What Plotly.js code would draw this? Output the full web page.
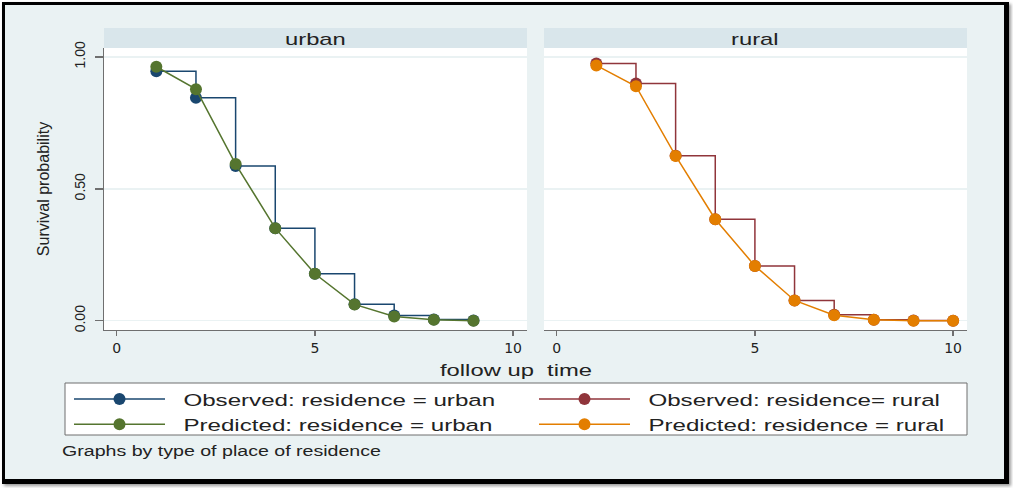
<!DOCTYPE html>
<html>
<head>
<meta charset="utf-8">
<script src="https://cdn.plot.ly/plotly-3.0.1.min.js"></script>
<style>
  html, body { margin: 0; padding: 0; background: #ffffff; }
  #frame { position: absolute; left: 2px; top: 2px; width: 999px; height: 474px;
           border-left: 3px solid #000; border-top: 3px solid #000;
           border-right: 5px solid #000; border-bottom: 5px solid #000;
           background: #EAF2F3; box-shadow: 2px 2px 3px #9a9a9a; }
  #chart { position: absolute; left: 0; top: 0; width: 1013px; height: 488px; }
  /* the reference picture is stretched sideways: widen horizontal texts */
  text.legendtext { transform-box: fill-box; transform-origin: left center; transform: scaleX(1.42); }
  text.annotation-text { transform-box: fill-box; transform-origin: center; transform: scaleX(1.4); }
</style>
</head>
<body>
<div id="frame"></div>
<div id="chart"></div>
<script>
// ---- data ----
const timeUrban = [1, 2, 3, 4, 5, 6, 7, 8, 9];
const observedUrban = [0.946, 0.845, 0.587, 0.351, 0.178, 0.063, 0.020, 0.005, 0.001];
const predictedUrban = [0.963, 0.878, 0.594, 0.351, 0.178, 0.062, 0.016, 0.004, 0.000];

const timeRural = [1, 2, 3, 4, 5, 6, 7, 8, 9, 10];
const observedRural = [0.975, 0.899, 0.626, 0.385, 0.208, 0.077, 0.023, 0.004, 0.001, 0.000];
const predictedRural = [0.968, 0.889, 0.625, 0.385, 0.208, 0.077, 0.021, 0.004, 0.000, 0.000];

const panelLabels = ["urban", "rural"];
const legendNames = [
  "Observed: residence = urban",
  "Observed: residence= rural",
  "Predicted: residence = urban",
  "Predicted: residence = rural"
];
const xTickVals = [0, 5, 10];
const xTickText = ["0", "5", "10"];
const yTickVals = [0, 0.5, 1];
const yTickText = ["0.00", "0.50", "1.00"];
const xTitle = "follow up\u00a0\u00a0time";
const yTitle = "Survival probability";
const noteText = "Graphs by type of place of residence";

// ---- styling ----
const W = 1013, H = 488;
const px = v => v / W;
const py = v => 1 - v / H;
const FONT = "Liberation Sans, Arial, sans-serif";
const TICKFONT = "DejaVu Sans, sans-serif";
const C = { navy: "#1A476F", maroon: "#90353B", green: "#55752F", orange: "#E37E00" };
const pad = "\u00a0\u00a0";

const traces = [
  { x: timeUrban, y: observedUrban, xaxis: "x", yaxis: "y", name: pad + legendNames[0],
    mode: "lines+markers", line: { shape: "hv", color: C.navy, width: 1.5 },
    marker: { color: C.navy, size: 12 }, legendrank: 1, legendwidth: 359 },
  { x: timeUrban, y: predictedUrban, xaxis: "x", yaxis: "y", name: pad + legendNames[2],
    mode: "lines+markers", line: { color: C.green, width: 1.5 },
    marker: { color: C.green, size: 12 }, legendrank: 3, legendwidth: 359 },
  { x: timeRural, y: observedRural, xaxis: "x2", yaxis: "y2", name: pad + legendNames[1],
    mode: "lines+markers", line: { shape: "hv", color: C.maroon, width: 1.5 },
    marker: { color: C.maroon, size: 12 }, legendrank: 2, legendwidth: 329 },
  { x: timeRural, y: predictedRural, xaxis: "x2", yaxis: "y2", name: pad + legendNames[3],
    mode: "lines+markers", line: { color: C.orange, width: 1.5 },
    marker: { color: C.orange, size: 12 }, legendrank: 4, legendwidth: 329 }
];

const xRange = [-0.32, 10.35];
const yRange = [-0.035, 1.034];
const yDom = [py(330), py(48)];

function xAxis(domain) {
  return {
    domain: domain, range: xRange, showgrid: false, zeroline: false,
    showline: true, linecolor: "#6f6f6f", linewidth: 1.3,
    ticks: "outside", ticklen: 5, tickcolor: "#6f6f6f", tickwidth: 1.3,
    tickvals: xTickVals, ticktext: xTickText,
    tickfont: { family: TICKFONT, size: 14, color: "#222" }, fixedrange: true
  };
}
function yAxis(showLabels, anchor) {
  return {
    domain: yDom, range: yRange, anchor: anchor,
    showgrid: true, gridcolor: "#EAF2F3", gridwidth: 1.3, zeroline: false,
    showline: showLabels, linecolor: "#6f6f6f", linewidth: 1.3,
    ticks: showLabels ? "outside" : "", ticklen: 8, tickcolor: "#6f6f6f", tickwidth: 1.3,
    tickvals: yTickVals, ticktext: yTickText, showticklabels: showLabels,
    tickangle: -90, ticklabelstandoff: 4,
    tickfont: { family: FONT, size: 14, color: "#222" },
    title: showLabels ? { text: yTitle, standoff: 18, font: { family: FONT, size: 16, color: "#222" } } : undefined,
    fixedrange: true
  };
}

const dom1 = [px(104), px(527)];
const dom2 = [px(544), px(967)];

function label(text, x, y, size, anchor) {
  return { text: text, xref: "paper", yref: "paper", x: x, y: y,
    xanchor: anchor || "center", yanchor: "middle", showarrow: false,
    font: { family: FONT, size: size, color: "#222" } };
}

const layout = {
  width: W, height: H,
  margin: { l: 0, r: 0, t: 0, b: 0 },
  paper_bgcolor: "rgba(0,0,0,0)",
  plot_bgcolor: "#ffffff",
  font: { family: FONT, color: "#222" },
  xaxis: xAxis(dom1), yaxis: yAxis(true, "x"),
  xaxis2: xAxis(dom2), yaxis2: yAxis(false, "x2"),
  showlegend: true,
  legend: {
    orientation: "h", x: px(69), y: py(381.5), xanchor: "left", yanchor: "top",
    bgcolor: "rgba(0,0,0,0)", borderwidth: 0,
    itemwidth: 91, font: { family: FONT, size: 17, color: "#222" },
    itemclick: false, itemdoubleclick: false
  },
  shapes: [
    { type: "rect", xref: "paper", yref: "paper", x0: dom1[0], x1: dom1[1], y0: py(48), y1: py(28),
      fillcolor: "#D9E6EB", line: { width: 0 }, layer: "below" },
    { type: "rect", xref: "paper", yref: "paper", x0: dom2[0], x1: dom2[1], y0: py(48), y1: py(28),
      fillcolor: "#D9E6EB", line: { width: 0 }, layer: "below" },
    { type: "rect", xref: "paper", yref: "paper", x0: px(65), x1: px(967), y0: py(435), y1: py(383),
      fillcolor: "#ffffff", line: { width: 1, color: "#6f6f6f" }, layer: "below" }
  ],
  annotations: [
    label(panelLabels[0], (dom1[0] + dom1[1]) / 2, py(38), 17),
    label(panelLabels[1], (dom2[0] + dom2[1]) / 2, py(38), 17),
    label(xTitle, px(516), py(369), 17),
    label(noteText, px(60), py(452), 14, "left")
  ]
};

Plotly.newPlot("chart", traces, layout, { displayModeBar: false, staticPlot: true });
</script>
</body>
</html>
